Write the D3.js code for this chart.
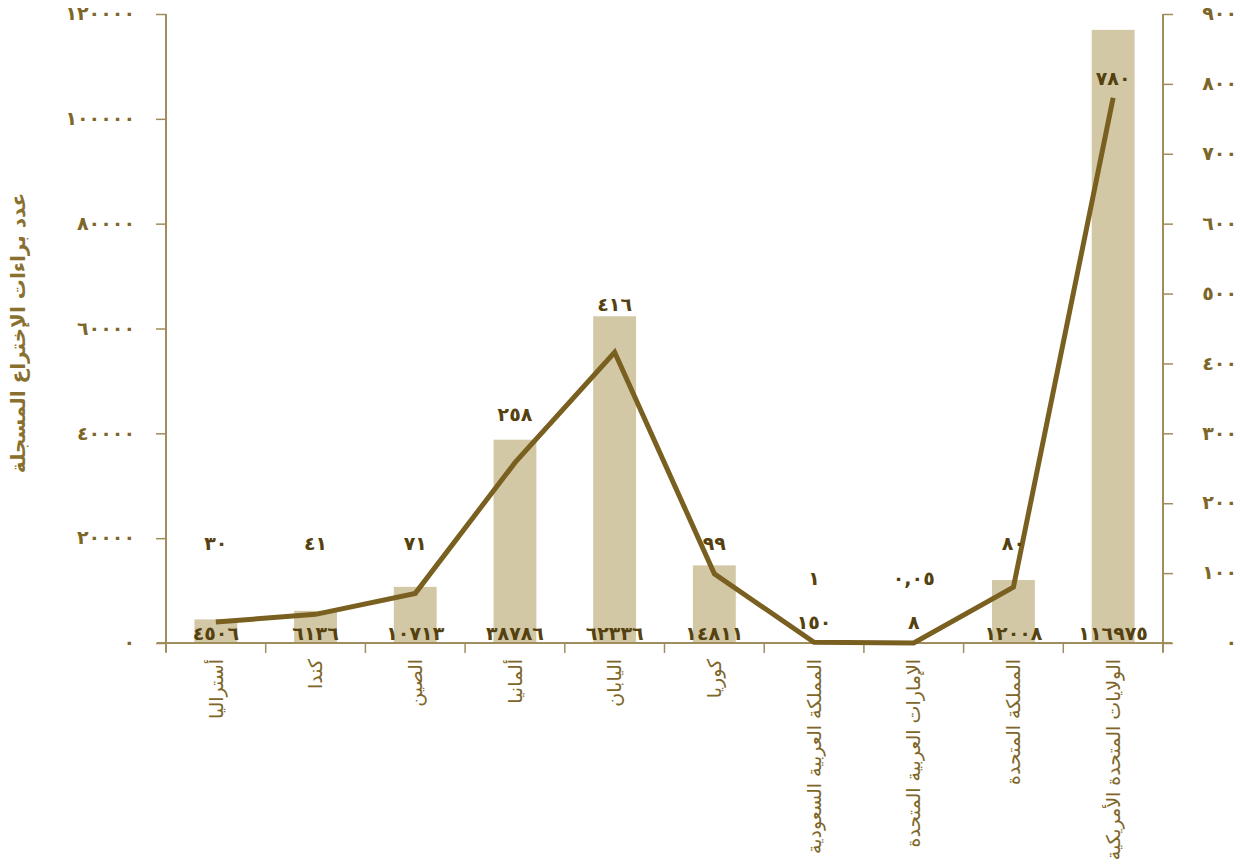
<!DOCTYPE html>
<html>
<head>
<meta charset="utf-8">
<script src="https://cdn.jsdelivr.net/npm/d3@7"></script>
<style>
  body { margin: 0; background: #fff; }
  text { font-family: "DejaVu Sans", sans-serif; }
</style>
</head>
<body>
<script>
var countries = ["أستراليا", "كندا", "الصين", "ألمانيا", "اليابان", "كوريا",
                 "المملكة العربية السعودية", "الإمارات العربية المتحدة",
                 "المملكة المتحدة", "الولايات المتحدة الأمريكية"];
// bars: registered patents (left axis)
var patents = [4506, 6136, 10713, 38786, 62336, 14811, 150, 8, 12008, 116975];
// line: right axis series
var perMillion = [30, 41, 71, 258, 416, 99, 1, 0.05, 80, 780];
var leftTicks = [0, 20000, 40000, 60000, 80000, 100000, 120000];
var rightTicks = [0, 100, 200, 300, 400, 500, 600, 700, 800, 900];

var W = 1247, H = 868;
var margin = {top: 14, right: 84, bottom: 225, left: 166};
var width = W - margin.left - margin.right;
var height = H - margin.top - margin.bottom;

var axisColor = "#a08d5c";
var tickText = "#7d6628";
var darkText = "#54410f";
var lineColor = "#7a6020";
var barColor = "#d3c8a6";

function arDigits(v) {
    return String(v).replace(".", ",").replace(/[0-9]/g, function(d) {
        return "٠١٢٣٤٥٦٧٨٩"[+d];
    });
}

var svg = d3.select("body").append("svg")
        .attr("width", W)
        .attr("height", H);

var g = svg.append("g")
        .attr("transform", "translate(" + margin.left + "," + margin.top + ")");

var x = d3.scaleBand().domain(countries).range([0, width]).paddingInner(0.57).paddingOuter(0.285);
var xb = d3.scaleBand().domain(countries).range([0, width]);
var yL = d3.scaleLinear().domain([0, 120000]).range([height, 0]);
var yR = d3.scaleLinear().domain([0, 900]).range([height, 0]);

// bars
g.selectAll("rect.bar")
    .data(patents)
    .enter().append("rect")
    .attr("class", "bar")
    .attr("x", function(d, i) { return x(countries[i]); })
    .attr("width", x.bandwidth())
    .attr("y", function(d) { return yL(d); })
    .attr("height", function(d) { return height - yL(d); })
    .attr("fill", barColor);

// left axis
var la = g.append("g").call(d3.axisLeft(yL).tickValues(leftTicks).tickSize(10).tickSizeOuter(0).tickFormat(arDigits));
la.select(".domain").attr("stroke", axisColor).attr("stroke-width", 2)
    .attr("d", "M0,0V" + (height + 9));
la.selectAll(".tick line").attr("stroke", axisColor).attr("stroke-width", 1.5);
la.selectAll(".tick text").attr("fill", tickText).attr("font-size", 19).attr("font-weight", "bold")
    .attr("x", -31).attr("dy", "0.3em");

// right axis
var ra = g.append("g").attr("transform", "translate(" + width + ",0)")
    .call(d3.axisRight(yR).tickValues(rightTicks).tickSize(10).tickSizeOuter(0).tickFormat(arDigits));
ra.select(".domain").attr("stroke", axisColor).attr("stroke-width", 2)
    .attr("d", "M0,0V" + (height + 9));
ra.selectAll(".tick line").attr("stroke", axisColor).attr("stroke-width", 1.5);
ra.selectAll(".tick text").attr("fill", tickText).attr("font-size", 19).attr("font-weight", "bold")
    .attr("text-anchor", "end").attr("x", 74).attr("dy", "0.3em");

// bottom axis
var ba = g.append("g").attr("transform", "translate(0," + height + ")")
    .call(d3.axisBottom(xb).tickSize(0).tickFormat(""));
ba.select(".domain").attr("stroke", axisColor).attr("stroke-width", 2)
    .attr("d", "M-9,0H" + (width + 9));
ba.selectAll(".tick").remove();
ba.selectAll("line.sep")
    .data(countries.concat([null]))
    .enter().append("line")
    .attr("x1", function(d, i) { return i * xb.bandwidth(); })
    .attr("x2", function(d, i) { return i * xb.bandwidth(); })
    .attr("y1", 0).attr("y2", 10)
    .attr("stroke", axisColor).attr("stroke-width", 1.5);

// category labels
g.selectAll("text.cat")
    .data(countries)
    .enter().append("text")
    .attr("class", "cat")
    .attr("transform", function(d) {
        return "translate(" + (xb(d) + xb.bandwidth() / 2) + "," + (height + 16) + ") rotate(-90)";
    })
    .attr("text-anchor", "end")
    .attr("dy", "0.35em")
    .attr("font-size", 19)
    .attr("fill", tickText)
    .text(function(d) { return d; });

// line
var line = d3.line()
    .x(function(d, i) { return xb(countries[i]) + xb.bandwidth() / 2; })
    .y(function(d) { return yR(d); });

g.append("path")
    .datum(perMillion)
    .attr("fill", "none")
    .attr("stroke", lineColor)
    .attr("stroke-width", 5)
    .attr("stroke-linejoin", "miter")
    .attr("d", line);

// bar value labels
g.selectAll("text.bval")
    .data(patents)
    .enter().append("text")
    .attr("class", "bval")
    .attr("x", function(d, i) { return xb(countries[i]) + xb.bandwidth() / 2; })
    .attr("y", function(d) { return (height - yL(d)) < 15 ? height - 21 : height - 10; })
    .attr("dy", "0.35em")
    .attr("text-anchor", "middle")
    .attr("font-size", 19)
    .attr("font-weight", "bold")
    .attr("fill", darkText)
    .text(arDigits);

// line value labels
g.selectAll("text.lval")
    .data(perMillion)
    .enter().append("text")
    .attr("class", "lval")
    .attr("x", function(d, i) { return xb(countries[i]) + xb.bandwidth() / 2; })
    .attr("y", function(d) {
        if (d < 10) return height - 65;
        if (d < 150) return height - 100;
        return Math.max(yR(d) - 48, 64);
    })
    .attr("dy", "0.35em")
    .attr("text-anchor", "middle")
    .attr("font-size", 19)
    .attr("font-weight", "bold")
    .attr("fill", darkText)
    .text(arDigits);

// y axis title
svg.append("text")
    .attr("transform", "translate(18," + 333 + ") rotate(-90)")
    .attr("text-anchor", "middle")
    .attr("dy", "0.35em")
    .attr("font-size", 20)
    .attr("font-weight", "bold")
    .attr("fill", "#8a7030")
    .text("عدد براءات الإختراع المسجلة");
</script>
</body>
</html>
